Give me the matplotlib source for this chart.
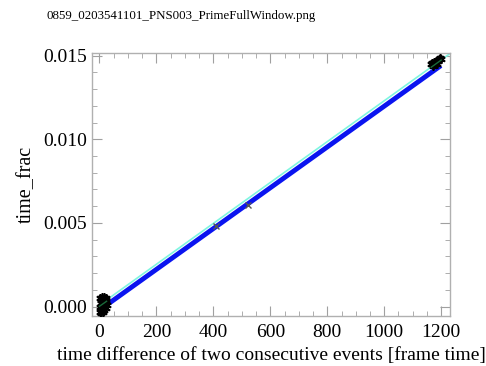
import numpy as np
import matplotlib.pyplot as plt
from matplotlib.ticker import MultipleLocator

# black asterisks: low cluster near the origin
low_x = [2, 5, 8, 12, 15, 18, 22, 25, 3, 7, 11, 16, 20, 24, 1, 6, 10, 14,
         19, 23, 4, 9, 13, 17, 21]
low_y = [0.0005, 0.0004, 0.0006, 0.0003, 0.0005, 0.0002, 0.0004, 0.0001,
         0.0000, -0.0001, 0.0001, -0.0002, 0.0000, -0.0001, -0.0003,
         -0.0004, -0.0002, 0.0002, 0.0003, 0.0005, 0.0002, 0.0003, -0.0003,
         0.0006, 0.0001]
# black asterisks: high cluster
high_x = [1165, 1170, 1175, 1180, 1185, 1190, 1195, 1172, 1178, 1183, 1188,
          1193, 1168, 1176, 1186, 1198]
high_y = [0.01450, 0.01445, 0.01455, 0.01460, 0.01465, 0.01470, 0.01485,
          0.01440, 0.01448, 0.01458, 0.01475, 0.01480, 0.01458, 0.01462,
          0.01452, 0.01478]
# middle markers
mid_x = [410, 522]
mid_y = [0.00482, 0.00607]
# thick blue line
blue_x = [14, 1199]
blue_y = [-0.00004, 0.01440]
# thin cyan line
cyan_x = [-5, 1232]
cyan_y = [0.00003, 0.01513]
# short green segments
green_x = [[0, 25], [1165, 1200]]
green_y = [[0.00002, 0.00032], [0.01430, 0.01473]]

plt.rcParams['font.family'] = ['Liberation Serif', 'DejaVu Serif']

fig = plt.figure(figsize=(4.86, 3.66), dpi=100)
ax = fig.add_axes([0.19, 0.1366, 0.7365, 0.7194])

ax.plot(cyan_x, cyan_y, color='#7ff5e0', lw=1.2, zorder=2)
ax.plot(blue_x, blue_y, color='#0a14f0', lw=3.5, solid_capstyle='butt',
        zorder=3)
ax.plot(low_x, low_y, ls='none', marker=(6, 2, 0), ms=6, mew=1.2,
        color='black', zorder=4)
ax.plot(high_x, high_y, ls='none', marker=(6, 2, 0), ms=6, mew=1.2,
        color='black', zorder=4)
for gx, gy in zip(green_x, green_y):
    ax.plot(gx, gy, color='#1a6a3a', lw=1, zorder=5)
ax.plot(mid_x, mid_y, ls='none', marker='x', ms=4, mew=1, color='#555555',
        zorder=5)

ax.set_xlim(-25, 1232)
ax.set_ylim(-0.00056, 0.01517)
ax.xaxis.set_major_locator(MultipleLocator(200))
ax.xaxis.set_minor_locator(MultipleLocator(50))
ax.yaxis.set_major_locator(MultipleLocator(0.005))
ax.yaxis.set_minor_locator(MultipleLocator(0.001))
ax.yaxis.set_major_formatter(plt.FuncFormatter(lambda v, p: '%.3f' % v))

for s in ax.spines.values():
    s.set_color('#b0b0b0')
    s.set_linewidth(1)
ax.tick_params(which='both', direction='in', top=True, right=True,
               color='#a0a0a0', labelsize=14)
ax.tick_params(axis='x', pad=6)
ax.tick_params(axis='y', pad=4)
ax.tick_params(which='major', length=7)
ax.tick_params(which='minor', length=3.5)

ax.set_xlabel('time difference of two consecutive events [frame time]',
              fontsize=14, labelpad=4)
ax.set_ylabel('time_frac', fontsize=14.5, labelpad=5)

fig.text(0.095, 0.955, '0859_0203541101_PNS003_PrimeFullWindow.png',
         fontsize=9.3, va='center')

fig.savefig('out.png', dpi=100)
